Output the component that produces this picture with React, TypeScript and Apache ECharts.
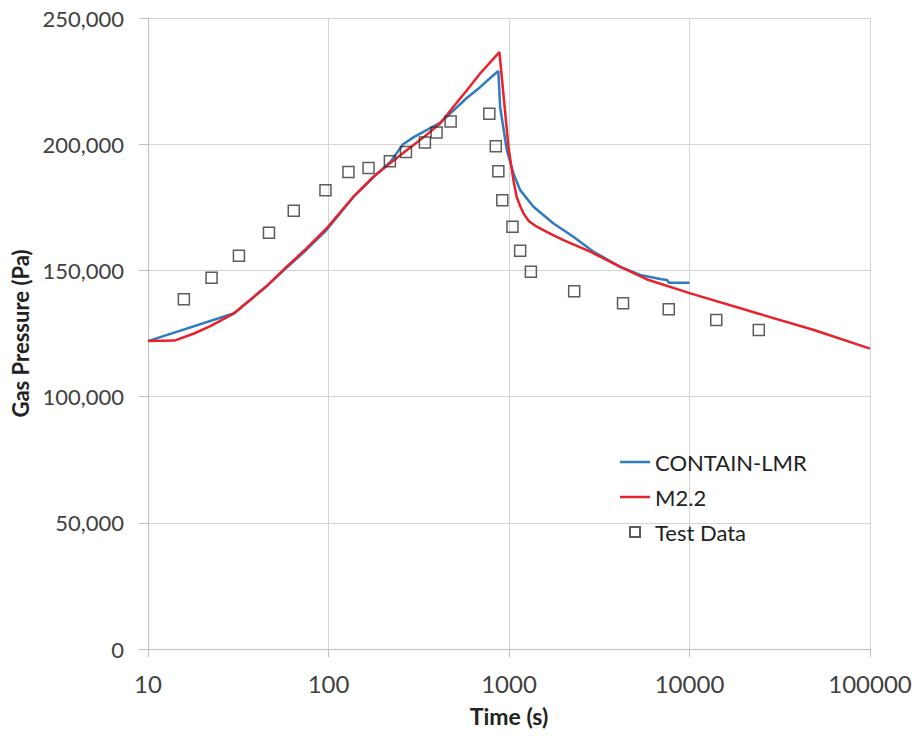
import React, { useEffect, useRef } from "react";
import * as echarts from "echarts";

// CONTAIN-LMR
const lmrTime = [10, 30, 45, 58.5, 75, 97.5, 137, 177, 220, 259, 300, 415, 500, 583, 692, 819, 873, 893, 973, 1058, 1153, 1367, 1764, 2274, 2938, 4137, 5330, 7000, 7510, 7700, 10000];
const lmrPressure = [122000, 133000, 143500, 151000, 158000, 166000, 179000, 187000, 193000, 200000, 203000, 208500, 213800, 218300, 222600, 227300, 229000, 214700, 197600, 188400, 181800, 175200, 168600, 163300, 157400, 151400, 148200, 146500, 146200, 145100, 145100];

// M2.2
const m22Time = [10, 14, 18, 22, 30, 35, 45, 58.5, 75, 97.5, 137, 177, 220, 271, 340, 415, 500, 583, 692, 885, 993, 1058, 1104, 1153, 1202, 1290, 1425, 1700, 2003, 2818, 4137, 5820, 10120, 23700, 48900, 100000];
const m22Pressure = [122000, 122200, 125000, 127800, 133000, 137000, 143500, 151400, 158500, 166600, 179100, 187000, 192500, 197600, 203000, 208200, 215400, 221300, 228000, 236500, 198900, 185700, 179000, 175500, 172600, 169500, 167300, 164500, 162000, 157400, 151400, 146400, 140900, 133000, 126400, 119000];

// Test Data
const testTime = [15.8, 22.5, 31.9, 46.8, 64.2, 96.2, 129, 166.7, 218.8, 268.6, 342, 397, 475, 778, 845, 873, 918, 1045, 1153, 1322, 2297, 4283, 7677, 14070, 24200];
const testPressure = [138600, 147100, 155800, 164900, 173600, 181800, 189000, 190600, 193250, 196900, 200650, 204600, 208950, 212100, 199200, 189300, 177800, 167300, 157800, 149500, 141700, 136950, 134600, 130350, 126400];

const yMin = 0;
const yMax = 250000;
const yStep = 50000;
const xMin = 10;
const xMax = 100000;

const FONT = "Lato";
const BLUE = "#2e7bbf";
const RED = "#e8212a";

export default function App() {
  const ref = useRef<HTMLDivElement>(null);
  useEffect(() => {
    if (!ref.current) return;
    const chart = echarts.init(ref.current, undefined, { renderer: "svg" });
    const zip = (xs: number[], ys: number[]) => xs.map((x, i) => [x, ys[i]]);
    chart.setOption({
      animation: false,
      backgroundColor: "#ffffff",
      textStyle: { fontFamily: FONT },
      grid: { left: 148, right: 45, top: 18, bottom: 87, containLabel: false },
      legend: {
        left: 620,
        top: 449,
        orient: "vertical",
        padding: 0,
        itemGap: 9,
        itemWidth: 30,
        itemHeight: 10,
        symbolKeepAspect: true,
        textStyle: { fontFamily: FONT, fontSize: 22, color: "#222", lineHeight: 26 },
        data: [
          { name: "CONTAIN-LMR", icon: "path://M0,0H30V2.5H0Z", itemStyle: { color: BLUE, borderWidth: 0 } },
          { name: "M2.2", icon: "path://M0,0H30V2.5H0Z", itemStyle: { color: RED, borderWidth: 0 } },
          { name: "Test Data", icon: "path://M0,0H10V10H0Z" },
        ],
      },
      xAxis: {
        type: "log",
        logBase: 10,
        min: xMin,
        max: xMax,
        name: "Time (s)",
        nameLocation: "middle",
        nameGap: 55,
        nameTextStyle: { fontFamily: FONT, fontSize: 23, fontWeight: "bold", color: "#222" },
        axisLine: { show: true, lineStyle: { color: "#bfbfbf", width: 1 } },
        axisTick: { show: true, length: 8, lineStyle: { color: "#bfbfbf" } },
        axisLabel: {
          margin: 22,
          fontFamily: FONT,
          fontSize: 24,
          color: "#404040",
          formatter: (v: number) => String(Math.round(v)),
        },
        splitLine: { show: true, lineStyle: { color: "#d4d4d4", width: 1 } },
        minorTick: { show: false },
      },
      yAxis: {
        type: "value",
        min: yMin,
        max: yMax,
        interval: yStep,
        name: "Gas Pressure (Pa)",
        nameLocation: "middle",
        nameGap: 113,
        nameTextStyle: { fontFamily: FONT, fontSize: 22, fontWeight: "bold", color: "#222" },
        axisLine: { show: true, lineStyle: { color: "#bfbfbf", width: 1 } },
        axisTick: { show: true, length: 9, lineStyle: { color: "#bfbfbf" } },
        axisLabel: {
          margin: 24,
          fontFamily: FONT,
          fontSize: 22,
          color: "#404040",
          formatter: (v: number) => v.toLocaleString("en-US"),
        },
        splitLine: { show: true, lineStyle: { color: "#d4d4d4", width: 1 } },
      },
      series: [
        {
          name: "CONTAIN-LMR",
          type: "line",
          data: zip(lmrTime, lmrPressure),
          showSymbol: false,
          symbol: "none",
          lineStyle: { color: BLUE, width: 2.5 },
          itemStyle: { color: BLUE },
          z: 3,
        },
        {
          name: "M2.2",
          type: "line",
          data: zip(m22Time, m22Pressure),
          showSymbol: false,
          symbol: "none",
          lineStyle: { color: RED, width: 2.5 },
          itemStyle: { color: RED },
          z: 4,
        },
        {
          name: "Test Data",
          type: "scatter",
          data: zip(testTime, testPressure),
          symbol: "rect",
          symbolSize: 11,
          itemStyle: { color: "rgba(255,255,255,0)", borderColor: "#333", borderWidth: 1.5 },
          z: 5,
        },
      ],
    });
    return () => chart.dispose();
  }, []);
  return (
    <div
      ref={ref}
      style={{ position: "fixed", left: 0, top: 0, width: 915, height: 736, background: "#fff" }}
    />
  );
}
